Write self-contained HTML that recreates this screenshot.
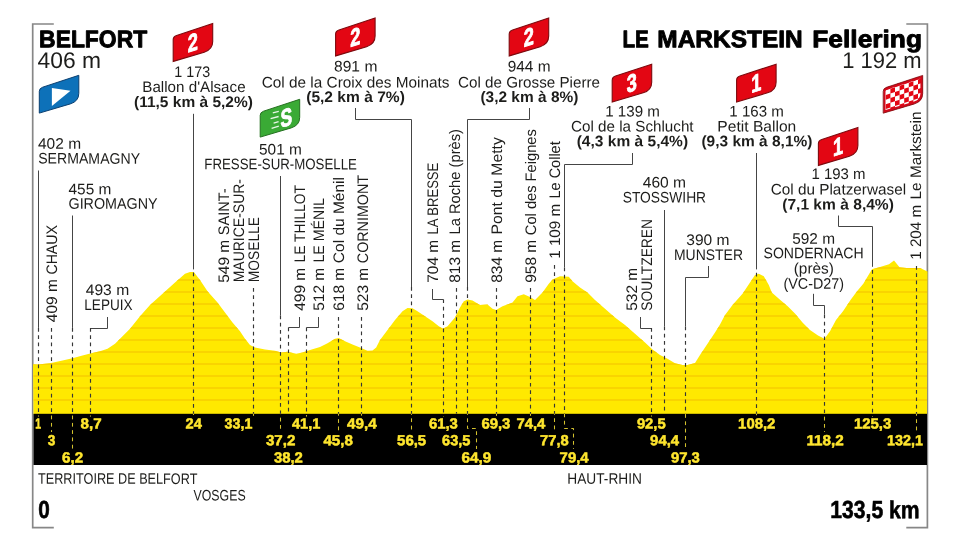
<!DOCTYPE html>
<html lang="fr">
<head>
<meta charset="utf-8">
<title>BELFORT - LE MARKSTEIN Fellering</title>
<style>
html,body{margin:0;padding:0;background:#fff;}
body{width:960px;height:540px;overflow:hidden;}
svg{display:block;text-rendering:geometricPrecision;font-family:"Liberation Sans",Arial,Helvetica,sans-serif;fill:#1d1d1b;}
</style>
</head>
<body>
<svg width="960" height="540" viewBox="0 0 960 540">
<g fill="none" stroke="#878787" stroke-width="1.7">
<path d="M53.8 24H32.7V527.6H53.8"/>
<path d="M906.3 24H927.4V527.6H906.3"/>
</g>
<defs><clipPath id="pc"><path d="M33.0,364.3 37.5,364.5 50.0,363.2 62.5,360.5 72.5,358.2 82.5,355.5 91.2,353.2 100.0,351.2 107.5,348.8 115.0,343.8 122.5,336.2 130.0,328.8 140.0,316.2 150.0,305.0 162.5,293.8 175.0,282.5 185.0,273.8 190.0,272.0 193.8,272.0 200.0,280.0 207.5,291.2 217.5,302.5 225.0,312.5 232.5,322.5 240.0,331.2 245.0,338.8 250.0,345.0 255.0,347.5 265.0,349.5 275.0,350.8 281.2,352.5 287.5,351.8 296.2,353.8 302.5,352.5 310.0,350.0 320.0,347.0 327.5,343.2 335.0,338.8 338.8,338.0 345.0,341.2 352.5,344.5 361.2,348.0 367.5,350.8 372.5,350.5 376.2,347.5 380.0,340.0 387.5,330.0 395.0,320.0 402.5,311.2 407.5,308.0 412.5,308.2 417.5,311.2 425.0,316.2 432.5,321.2 438.8,326.2 443.0,328.8 447.5,326.2 455.0,317.5 460.0,307.5 463.8,301.2 467.5,299.5 472.5,300.5 480.0,305.0 487.5,304.5 492.5,308.8 496.2,310.0 502.5,306.2 512.5,302.5 517.5,296.2 523.8,294.2 530.0,297.0 535.0,300.0 542.5,292.5 548.8,283.8 552.5,279.5 560.0,276.2 568.8,276.8 572.5,281.2 580.0,287.5 587.5,292.5 595.0,300.0 605.0,308.8 615.0,317.5 625.0,325.0 635.0,333.8 645.0,342.5 652.5,349.5 660.0,355.0 667.5,358.8 675.0,363.2 682.5,365.0 687.5,365.0 695.0,363.0 700.0,355.0 705.0,347.5 710.0,340.0 715.0,332.5 720.0,324.5 725.0,315.0 732.5,305.0 742.5,293.8 750.0,282.5 755.0,275.0 758.8,273.8 763.8,276.2 768.8,285.0 771.8,292.5 780.3,300.0 787.7,306.2 795.2,313.8 802.5,322.5 810.0,330.0 818.0,335.5 824.5,338.8 830.0,331.2 836.0,320.0 843.0,311.2 850.5,300.0 857.0,291.2 863.3,283.8 868.5,275.0 872.0,269.3 880.0,267.0 889.0,264.3 894.0,260.6 899.5,267.3 906.7,267.9 920.0,268.0 927.5,271.6 L927.0,414.8 L33.5,414.8Z"/></clipPath></defs>
<path d="M33.0,364.3 37.5,364.5 50.0,363.2 62.5,360.5 72.5,358.2 82.5,355.5 91.2,353.2 100.0,351.2 107.5,348.8 115.0,343.8 122.5,336.2 130.0,328.8 140.0,316.2 150.0,305.0 162.5,293.8 175.0,282.5 185.0,273.8 190.0,272.0 193.8,272.0 200.0,280.0 207.5,291.2 217.5,302.5 225.0,312.5 232.5,322.5 240.0,331.2 245.0,338.8 250.0,345.0 255.0,347.5 265.0,349.5 275.0,350.8 281.2,352.5 287.5,351.8 296.2,353.8 302.5,352.5 310.0,350.0 320.0,347.0 327.5,343.2 335.0,338.8 338.8,338.0 345.0,341.2 352.5,344.5 361.2,348.0 367.5,350.8 372.5,350.5 376.2,347.5 380.0,340.0 387.5,330.0 395.0,320.0 402.5,311.2 407.5,308.0 412.5,308.2 417.5,311.2 425.0,316.2 432.5,321.2 438.8,326.2 443.0,328.8 447.5,326.2 455.0,317.5 460.0,307.5 463.8,301.2 467.5,299.5 472.5,300.5 480.0,305.0 487.5,304.5 492.5,308.8 496.2,310.0 502.5,306.2 512.5,302.5 517.5,296.2 523.8,294.2 530.0,297.0 535.0,300.0 542.5,292.5 548.8,283.8 552.5,279.5 560.0,276.2 568.8,276.8 572.5,281.2 580.0,287.5 587.5,292.5 595.0,300.0 605.0,308.8 615.0,317.5 625.0,325.0 635.0,333.8 645.0,342.5 652.5,349.5 660.0,355.0 667.5,358.8 675.0,363.2 682.5,365.0 687.5,365.0 695.0,363.0 700.0,355.0 705.0,347.5 710.0,340.0 715.0,332.5 720.0,324.5 725.0,315.0 732.5,305.0 742.5,293.8 750.0,282.5 755.0,275.0 758.8,273.8 763.8,276.2 768.8,285.0 771.8,292.5 780.3,300.0 787.7,306.2 795.2,313.8 802.5,322.5 810.0,330.0 818.0,335.5 824.5,338.8 830.0,331.2 836.0,320.0 843.0,311.2 850.5,300.0 857.0,291.2 863.3,283.8 868.5,275.0 872.0,269.3 880.0,267.0 889.0,264.3 894.0,260.6 899.5,267.3 906.7,267.9 920.0,268.0 927.5,271.6 L927.0,414.8 L33.5,414.8Z" fill="#ffe900"/>
<path d="M33.5 400.0H927.0M33.5 388.0H927.0M33.5 376.0H927.0M33.5 364.0H927.0M33.5 352.0H927.0M33.5 340.0H927.0M33.5 328.0H927.0M33.5 316.0H927.0M33.5 304.0H927.0M33.5 292.0H927.0M33.5 280.0H927.0M33.5 268.0H927.0M33.5 256.0H927.0" clip-path="url(#pc)" fill="none" stroke="#f7cd00" stroke-width="1.4"/>
<rect x="33.5" y="413.8" width="893.5" height="51.19999999999999" fill="#000"/>
<path d="M38.5 170.5L38.5 327.9M72.5 215.5L72.5 327.9M107.5 317.0L107.5 328.5L90.5 328.5M193.5 113.8L193.5 269.4M280.5 176.0L280.5 315.5M299.5 317.0L299.5 327.5L288.5 327.5M318.5 317.0L318.5 327.5L306.5 327.5M355.5 108.0L355.5 119.5L411.5 119.5L411.5 287.0M432.5 289.0L432.5 299.5L443.5 299.5M529.5 108.0L529.5 119.5L467.5 119.5L467.5 287.0M632.5 153.0L632.5 164.5L564.5 164.5L564.5 267.5M640.5 317.0L640.5 328.5L651.5 328.5M664.5 210.0L664.5 326.5M708.5 266.0L708.5 277.5L685.5 277.5L685.5 326.5M756.5 153.0L756.5 269.4M813.5 293.8L813.5 305.5L824.5 305.5L824.5 314.5M838.5 215.5L838.5 226.5L872.5 226.5L872.5 266.8" fill="none" stroke="#454545" stroke-width="1"/>
<path d="M38.5 328.0V416.5M51.5 328.0V432.0M72.5 328.0V449.0M90.5 328.0V416.5M193.5 272.6V416.5M253.5 288.0V416.5M280.5 315.5V432.0M288.5 327.5V413.8M306.5 327.5V416.5M338.5 317.0V432.0M361.5 317.0V416.5M411.5 287.0V432.0M443.5 299.4V416.5M456.5 288.0V413.8M467.5 287.0V428.5H476.5V449.0M496.5 288.0V416.5M530.5 288.0V416.5M554.5 265.0V432.0M564.5 267.5V428.5H573.5V449.0M651.5 328.0V416.5M664.5 326.5V413.8M685.5 326.5V449.0M756.5 272.8V416.5M824.5 314.5V432.0M872.5 270.0V416.5M916.5 266.0V432.0" fill="none" stroke="#363636" stroke-width="1.15" stroke-dasharray="3.7 3.6"/>
<clipPath id="bc"><rect x="33.5" y="413.8" width="893.5" height="51.19999999999999"/></clipPath>
<path d="M38.5 328.0V416.5M51.5 328.0V432.0M72.5 328.0V449.0M90.5 328.0V416.5M193.5 272.6V416.5M253.5 288.0V416.5M280.5 315.5V432.0M288.5 327.5V413.8M306.5 327.5V416.5M338.5 317.0V432.0M361.5 317.0V416.5M411.5 287.0V432.0M443.5 299.4V416.5M456.5 288.0V413.8M467.5 287.0V428.5H476.5V449.0M496.5 288.0V416.5M530.5 288.0V416.5M554.5 265.0V432.0M564.5 267.5V428.5H573.5V449.0M651.5 328.0V416.5M664.5 326.5V413.8M685.5 326.5V449.0M756.5 272.8V416.5M824.5 314.5V432.0M872.5 270.0V416.5M916.5 266.0V432.0" clip-path="url(#bc)" fill="none" stroke="#e6d32a" stroke-width="0.9" stroke-dasharray="3.7 3.6"/>
<defs><path id="fl" d="M0 37.8V16Q0 13 3.4 11.9L39.5 0V18Q39.5 26 31 28.6Z"/><clipPath id="fc"><use href="#fl"/></clipPath></defs>
<g transform="translate(173.2 23.6)">
<use href="#fl" fill="#e30613" stroke="#7d0a0e" stroke-width="1.1"/>
<text transform="matrix(0.74 -0.24 0 1 19.6 27.2)" text-anchor="middle" font-size="24.5" font-weight="700" fill="#fff" stroke="#fff" stroke-width="0.9" stroke-linejoin="round">2</text>
</g>
<g transform="translate(335.6 18.1)">
<use href="#fl" fill="#e30613" stroke="#7d0a0e" stroke-width="1.1"/>
<text transform="matrix(0.74 -0.24 0 1 19.6 27.2)" text-anchor="middle" font-size="24.5" font-weight="700" fill="#fff" stroke="#fff" stroke-width="0.9" stroke-linejoin="round">2</text>
</g>
<g transform="translate(509.2 18.1)">
<use href="#fl" fill="#e30613" stroke="#7d0a0e" stroke-width="1.1"/>
<text transform="matrix(0.74 -0.24 0 1 19.6 27.2)" text-anchor="middle" font-size="24.5" font-weight="700" fill="#fff" stroke="#fff" stroke-width="0.9" stroke-linejoin="round">2</text>
</g>
<g transform="translate(612.2 64.2)">
<use href="#fl" fill="#e30613" stroke="#7d0a0e" stroke-width="1.1"/>
<text transform="matrix(0.74 -0.24 0 1 19.6 27.2)" text-anchor="middle" font-size="24.5" font-weight="700" fill="#fff" stroke="#fff" stroke-width="0.9" stroke-linejoin="round">3</text>
</g>
<g transform="translate(736.6 64.2)">
<use href="#fl" fill="#e30613" stroke="#7d0a0e" stroke-width="1.1"/>
<text transform="matrix(0.74 -0.24 0 1 19.6 27.2)" text-anchor="middle" font-size="24.5" font-weight="700" fill="#fff" stroke="#fff" stroke-width="0.9" stroke-linejoin="round">1</text>
</g>
<g transform="translate(818.4 127.6)">
<use href="#fl" fill="#e30613" stroke="#7d0a0e" stroke-width="1.1"/>
<text transform="matrix(0.74 -0.24 0 1 19.6 27.2)" text-anchor="middle" font-size="24.5" font-weight="700" fill="#fff" stroke="#fff" stroke-width="0.9" stroke-linejoin="round">1</text>
</g>
<g transform="translate(39.3 75.3)"><use href="#fl" fill="#0d71b9" stroke="#0b3f70" stroke-width="1"/><path d="M12.6 12.6L31.2 15.5L12.6 30.8Z" fill="#fff"/></g>
<g transform="translate(260.2 99.3)"><use href="#fl" fill="#3aaa35" stroke="#24701f" stroke-width="1"/><path d="M12.6 13.6L18.6 12M10.4 19.4L18.4 17.2M13.4 23.9L18.4 22.4M11.4 29L18.6 26.8" stroke="#e9f6e7" stroke-width="1.3" fill="none"/><text transform="matrix(0.7 -0.2 0 1 26.1 26.9)" text-anchor="middle" font-size="25" font-weight="700" fill="#fff" stroke="#fff" stroke-width="0.9" stroke-linejoin="round">S</text></g>
<g transform="translate(883.2 75.4)"><use href="#fl" fill="#fff"/><g clip-path="url(#fc)"><path transform="matrix(1 -0.33 0 1 0 0)" d="M7.2 6.3h4.6v4.7h-4.6zM16.4 6.3h4.6v4.7h-4.6zM25.6 6.3h4.6v4.7h-4.6zM34.8 6.3h4.6v4.7h-4.6zM2.6 11.0h4.6v4.7h-4.6zM11.8 11.0h4.6v4.7h-4.6zM21.0 11.0h4.6v4.7h-4.6zM30.2 11.0h4.6v4.7h-4.6zM39.4 11.0h4.6v4.7h-4.6zM7.2 15.7h4.6v4.7h-4.6zM16.4 15.7h4.6v4.7h-4.6zM25.6 15.7h4.6v4.7h-4.6zM34.8 15.7h4.6v4.7h-4.6zM2.6 20.4h4.6v4.7h-4.6zM11.8 20.4h4.6v4.7h-4.6zM21.0 20.4h4.6v4.7h-4.6zM30.2 20.4h4.6v4.7h-4.6zM39.4 20.4h4.6v4.7h-4.6zM7.2 25.1h4.6v4.7h-4.6zM16.4 25.1h4.6v4.7h-4.6zM25.6 25.1h4.6v4.7h-4.6zM34.8 25.1h4.6v4.7h-4.6zM2.6 29.8h4.6v4.7h-4.6zM11.8 29.8h4.6v4.7h-4.6zM21.0 29.8h4.6v4.7h-4.6zM30.2 29.8h4.6v4.7h-4.6zM39.4 29.8h4.6v4.7h-4.6zM7.2 34.5h4.6v4.7h-4.6zM16.4 34.5h4.6v4.7h-4.6zM25.6 34.5h4.6v4.7h-4.6zM34.8 34.5h4.6v4.7h-4.6zM2.6 39.2h4.6v4.7h-4.6zM11.8 39.2h4.6v4.7h-4.6zM21.0 39.2h4.6v4.7h-4.6zM30.2 39.2h4.6v4.7h-4.6zM39.4 39.2h4.6v4.7h-4.6zM7.2 43.9h4.6v4.7h-4.6zM16.4 43.9h4.6v4.7h-4.6zM25.6 43.9h4.6v4.7h-4.6zM34.8 43.9h4.6v4.7h-4.6z" fill="#e30613"/><use href="#fl" fill="none" stroke="#d2091a" stroke-width="4.6"/></g><use href="#fl" fill="none" stroke="#7d0a0e" stroke-width="0.8"/></g>
<text transform="matrix(0.9498 .0005 0 1 39.10 47.20)" font-size="24.1" font-weight="700" fill="#000" stroke="#000" stroke-width="0.9" stroke-linejoin="round">BELFORT</text>
<text transform="matrix(1.0107 .0005 0 1 37.60 68.00)" font-size="22.6">406 m</text>
<text transform="matrix(0.8607 .0005 0 1 622.40 47.20)" font-size="24.1" font-weight="700" fill="#000" stroke="#000" stroke-width="0.9" stroke-linejoin="round">LE</text>
<text transform="matrix(1.0148 .0005 0 1 657.30 47.20)" font-size="24.1" font-weight="700" fill="#000" stroke="#000" stroke-width="0.9" stroke-linejoin="round">MARKSTEIN</text>
<text transform="matrix(1.0922 .0005 0 1 812.30 47.20)" font-size="24.1" font-weight="700" fill="#000" stroke="#000" stroke-width="0.9" stroke-linejoin="round">Fellering</text>
<text transform="matrix(0.9713 .0005 0 1 842.30 68.00)" font-size="22.6">1 192 m</text>
<text transform="matrix(1.0166 .0005 0 1 38.00 148.80)" font-size="15.25">402 m</text>
<text transform="matrix(0.9252 .0005 0 1 38.20 163.60)" font-size="15.25">SERMAMAGNY</text>
<text transform="matrix(1.0119 .0005 0 1 68.50 194.20)" font-size="15.25">455 m</text>
<text transform="matrix(0.9390 .0005 0 1 68.50 208.80)" font-size="15.25">GIROMAGNY</text>
<text transform="matrix(1.0261 .0005 0 1 85.70 295.00)" font-size="15.25">493 m</text>
<text transform="matrix(0.8903 .0005 0 1 84.30 310.00)" font-size="15.25">LEPUIX</text>
<text transform="matrix(0.9381 .0005 0 1 174.30 77.00)" font-size="15.25">1 173</text>
<text transform="matrix(0.9950 .0005 0 1 142.30 92.00)" font-size="15.25">Ballon d'Alsace</text>
<text transform="matrix(1.0162 .0005 0 1 134.00 107.00)" font-size="15.25" font-weight="700">(11,5 km à 5,2%)</text>
<text transform="matrix(1.0119 .0005 0 1 259.00 154.50)" font-size="15.25">501 m</text>
<text transform="matrix(0.8699 .0005 0 1 204.30 169.30)" font-size="15.25">FRESSE-SUR-MOSELLE</text>
<text transform="matrix(1.0237 .0005 0 1 334.00 71.50)" font-size="15.25">891 m</text>
<text transform="matrix(1.0066 .0005 0 1 261.70 87.50)" font-size="15.25">Col de la Croix des Moinats</text>
<text transform="matrix(1.0212 .0005 0 1 306.20 102.00)" font-size="15.25" font-weight="700">(5,2 km à 7%)</text>
<text transform="matrix(1.0119 .0005 0 1 507.70 71.50)" font-size="15.25">944 m</text>
<text transform="matrix(0.9972 .0005 0 1 458.00 87.50)" font-size="15.25">Col de Grosse Pierre</text>
<text transform="matrix(1.0140 .0005 0 1 480.40 102.00)" font-size="15.25" font-weight="700">(3,2 km à 8%)</text>
<text transform="matrix(0.9929 .0005 0 1 605.20 116.50)" font-size="15.25">1 139 m</text>
<text transform="matrix(0.9974 .0005 0 1 571.00 131.50)" font-size="15.25">Col de la Schlucht</text>
<text transform="matrix(1.0188 .0005 0 1 576.70 146.30)" font-size="15.25" font-weight="700">(4,3 km à 5,4%)</text>
<text transform="matrix(0.9911 .0005 0 1 729.30 116.50)" font-size="15.25">1 163 m</text>
<text transform="matrix(1.0238 .0005 0 1 717.30 131.50)" font-size="15.25">Petit Ballon</text>
<text transform="matrix(1.0152 .0005 0 1 701.40 146.30)" font-size="15.25" font-weight="700">(9,3 km à 8,1%)</text>
<text transform="matrix(0.9838 .0005 0 1 811.40 179.00)" font-size="15.25">1 193 m</text>
<text transform="matrix(1.0047 .0005 0 1 770.70 194.50)" font-size="15.25">Col du Platzerwasel</text>
<text transform="matrix(1.0216 .0005 0 1 782.20 209.50)" font-size="15.25" font-weight="700">(7,1 km à 8,4%)</text>
<text transform="matrix(1.0237 .0005 0 1 642.70 187.50)" font-size="15.25">460 m</text>
<text transform="matrix(0.9058 .0005 0 1 622.70 202.50)" font-size="15.25">STOSSWIHR</text>
<text transform="matrix(1.0213 .0005 0 1 686.30 245.00)" font-size="15.25">390 m</text>
<text transform="matrix(0.9163 .0005 0 1 673.90 260.00)" font-size="15.25">MUNSTER</text>
<text transform="matrix(1.0119 .0005 0 1 792.20 243.80)" font-size="15.25">592 m</text>
<text transform="matrix(0.9229 .0005 0 1 763.50 258.30)" font-size="15.25">SONDERNACH</text>
<text transform="matrix(1.0090 .0005 0 1 793.70 273.40)" font-size="15.25">(près)</text>
<text transform="matrix(0.9380 .0005 0 1 783.50 288.80)" font-size="15.25">(VC-D27)</text>
<text transform="matrix(0.8310 .0005 0 1 38.00 483.80)" font-size="15.25">TERRITOIRE DE BELFORT</text>
<text transform="matrix(0.8091 .0005 0 1 193.50 500.50)" font-size="15.25">VOSGES</text>
<text transform="matrix(0.8984 .0005 0 1 567.30 483.80)" font-size="15.25">HAUT-RHIN</text>
<text transform="matrix(0.8423 .0005 0 1 38.20 518.10)" font-size="24.6" font-weight="700" fill="#000" stroke="#000" stroke-width="0.6" stroke-linejoin="round">0</text>
<text transform="matrix(0.8592 .0005 0 1 830.30 518.10)" font-size="24.6" font-weight="700" fill="#000" stroke="#000" stroke-width="0.6" stroke-linejoin="round">133,5 km</text>
<text transform="translate(56.90 322.20) rotate(-90) scale(1.0143 1)" font-size="15.25">409 m</text>
<text transform="translate(56.90 274.60) rotate(-90) scale(0.9293 1)" font-size="15.25">CHAUX</text>
<text transform="translate(228.90 282.80) rotate(-90) scale(1.0143 1)" font-size="15.25">549 m</text>
<text transform="translate(228.90 235.20) rotate(-90) scale(0.9523 1)" font-size="15.25">SAINT-</text>
<text transform="translate(243.90 282.30) rotate(-90) scale(0.9166 1)" font-size="15.25">MAURICE-SUR-</text>
<text transform="translate(258.90 282.30) rotate(-90) scale(0.9062 1)" font-size="15.25">MOSELLE</text>
<text transform="translate(304.50 310.80) rotate(-90) scale(1.0143 1)" font-size="15.25">499 m</text>
<text transform="translate(304.50 262.50) rotate(-90) scale(0.9083 1)" font-size="15.25">LE THILLOT</text>
<text transform="translate(323.90 310.80) rotate(-90) scale(1.0143 1)" font-size="15.25">512 m</text>
<text transform="translate(323.90 262.50) rotate(-90) scale(0.9280 1)" font-size="15.25">LE MÉNIL</text>
<text transform="translate(343.90 310.80) rotate(-90) scale(1.0143 1)" font-size="15.25">618 m</text>
<text transform="translate(343.90 263.20) rotate(-90) scale(1.0171 1)" font-size="15.25">Col du Ménil</text>
<text transform="translate(367.90 310.80) rotate(-90) scale(1.0143 1)" font-size="15.25">523 m</text>
<text transform="translate(367.90 263.20) rotate(-90) scale(0.9381 1)" font-size="15.25">CORNIMONT</text>
<text transform="translate(437.70 282.80) rotate(-90) scale(1.0143 1)" font-size="15.25">704 m</text>
<text transform="translate(437.70 234.50) rotate(-90) scale(0.8545 1)" font-size="15.25">LA BRESSE</text>
<text transform="translate(459.70 282.80) rotate(-90) scale(1.0143 1)" font-size="15.25">813 m</text>
<text transform="translate(459.70 234.50) rotate(-90) scale(0.9649 1)" font-size="15.25">La Roche (près)</text>
<text transform="translate(501.90 282.80) rotate(-90) scale(1.0143 1)" font-size="15.25">834 m</text>
<text transform="translate(501.90 234.50) rotate(-90) scale(1.0341 1)" font-size="15.25">Pont du Metty</text>
<text transform="translate(536.30 282.80) rotate(-90) scale(1.0143 1)" font-size="15.25">958 m</text>
<text transform="translate(536.30 235.20) rotate(-90) scale(0.9617 1)" font-size="15.25">Col des Feignes</text>
<text transform="translate(559.50 258.80) rotate(-90) scale(0.9984 1)" font-size="15.25">1 109 m</text>
<text transform="translate(559.50 198.50) rotate(-90) scale(0.9502 1)" font-size="15.25">Le Collet</text>
<text transform="translate(636.90 310.80) rotate(-90) scale(1.0143 1)" font-size="15.25">532 m</text>
<text transform="translate(651.50 310.80) rotate(-90) scale(0.9052 1)" font-size="15.25">SOULTZEREN</text>
<text transform="translate(920.50 259.80) rotate(-90) scale(0.9984 1)" font-size="15.25">1 204 m</text>
<text transform="translate(920.50 199.50) rotate(-90) scale(1.0091 1)" font-size="15.25">Le Markstein</text>
<text transform="matrix(0.7109 .0005 0 1 35.30 428.60)" font-size="14.7" font-weight="700" fill="#ffe62e" stroke="#ffe62e" stroke-width="0.5" stroke-linejoin="round">1</text>
<text transform="matrix(0.9315 .0005 0 1 47.70 445.30)" font-size="14.7" font-weight="700" fill="#ffe62e" stroke="#ffe62e" stroke-width="0.5" stroke-linejoin="round">3</text>
<text transform="matrix(1.0326 .0005 0 1 62.10 462.60)" font-size="14.7" font-weight="700" fill="#ffe62e" stroke="#ffe62e" stroke-width="0.5" stroke-linejoin="round">6,2</text>
<text transform="matrix(1.0326 .0005 0 1 80.60 428.60)" font-size="14.7" font-weight="700" fill="#ffe62e" stroke="#ffe62e" stroke-width="0.5" stroke-linejoin="round">8,7</text>
<text transform="matrix(0.9967 .0005 0 1 185.60 428.60)" font-size="14.7" font-weight="700" fill="#ffe62e" stroke="#ffe62e" stroke-width="0.5" stroke-linejoin="round">24</text>
<text transform="matrix(0.9711 .0005 0 1 224.60 428.60)" font-size="14.7" font-weight="700" fill="#ffe62e" stroke="#ffe62e" stroke-width="0.5" stroke-linejoin="round">33,1</text>
<text transform="matrix(1.0305 .0005 0 1 265.90 445.30)" font-size="14.7" font-weight="700" fill="#ffe62e" stroke="#ffe62e" stroke-width="0.5" stroke-linejoin="round">37,2</text>
<text transform="matrix(1.0130 .0005 0 1 273.90 462.60)" font-size="14.7" font-weight="700" fill="#ffe62e" stroke="#ffe62e" stroke-width="0.5" stroke-linejoin="round">38,2</text>
<text transform="matrix(0.9955 .0005 0 1 291.90 428.60)" font-size="14.7" font-weight="700" fill="#ffe62e" stroke="#ffe62e" stroke-width="0.5" stroke-linejoin="round">41,1</text>
<text transform="matrix(1.0305 .0005 0 1 323.40 445.30)" font-size="14.7" font-weight="700" fill="#ffe62e" stroke="#ffe62e" stroke-width="0.5" stroke-linejoin="round">45,8</text>
<text transform="matrix(1.0339 .0005 0 1 347.10 428.60)" font-size="14.7" font-weight="700" fill="#ffe62e" stroke="#ffe62e" stroke-width="0.5" stroke-linejoin="round">49,4</text>
<text transform="matrix(1.0165 .0005 0 1 397.10 445.30)" font-size="14.7" font-weight="700" fill="#ffe62e" stroke="#ffe62e" stroke-width="0.5" stroke-linejoin="round">56,5</text>
<text transform="matrix(1.0130 .0005 0 1 428.90 428.60)" font-size="14.7" font-weight="700" fill="#ffe62e" stroke="#ffe62e" stroke-width="0.5" stroke-linejoin="round">61,3</text>
<text transform="matrix(0.9885 .0005 0 1 442.10 445.30)" font-size="14.7" font-weight="700" fill="#ffe62e" stroke="#ffe62e" stroke-width="0.5" stroke-linejoin="round">63,5</text>
<text transform="matrix(1.0409 .0005 0 1 461.40 462.60)" font-size="14.7" font-weight="700" fill="#ffe62e" stroke="#ffe62e" stroke-width="0.5" stroke-linejoin="round">64,9</text>
<text transform="matrix(1.0130 .0005 0 1 481.40 428.60)" font-size="14.7" font-weight="700" fill="#ffe62e" stroke="#ffe62e" stroke-width="0.5" stroke-linejoin="round">69,3</text>
<text transform="matrix(1.0130 .0005 0 1 516.40 428.60)" font-size="14.7" font-weight="700" fill="#ffe62e" stroke="#ffe62e" stroke-width="0.5" stroke-linejoin="round">74,4</text>
<text transform="matrix(0.9990 .0005 0 1 540.10 445.30)" font-size="14.7" font-weight="700" fill="#ffe62e" stroke="#ffe62e" stroke-width="0.5" stroke-linejoin="round">77,8</text>
<text transform="matrix(1.0165 .0005 0 1 559.60 462.60)" font-size="14.7" font-weight="700" fill="#ffe62e" stroke="#ffe62e" stroke-width="0.5" stroke-linejoin="round">79,4</text>
<text transform="matrix(1.0060 .0005 0 1 636.90 428.60)" font-size="14.7" font-weight="700" fill="#ffe62e" stroke="#ffe62e" stroke-width="0.5" stroke-linejoin="round">92,5</text>
<text transform="matrix(1.0165 .0005 0 1 650.10 445.30)" font-size="14.7" font-weight="700" fill="#ffe62e" stroke="#ffe62e" stroke-width="0.5" stroke-linejoin="round">94,4</text>
<text transform="matrix(1.0130 .0005 0 1 670.90 462.60)" font-size="14.7" font-weight="700" fill="#ffe62e" stroke="#ffe62e" stroke-width="0.5" stroke-linejoin="round">97,3</text>
<text transform="matrix(1.0140 .0005 0 1 738.10 428.60)" font-size="14.7" font-weight="700" fill="#ffe62e" stroke="#ffe62e" stroke-width="0.5" stroke-linejoin="round">108,2</text>
<text transform="matrix(1.0367 .0005 0 1 806.40 445.30)" font-size="14.7" font-weight="700" fill="#ffe62e" stroke="#ffe62e" stroke-width="0.5" stroke-linejoin="round">118,2</text>
<text transform="matrix(1.0140 .0005 0 1 853.90 428.60)" font-size="14.7" font-weight="700" fill="#ffe62e" stroke="#ffe62e" stroke-width="0.5" stroke-linejoin="round">125,3</text>
<text transform="matrix(0.9732 .0005 0 1 887.10 445.30)" font-size="14.7" font-weight="700" fill="#ffe62e" stroke="#ffe62e" stroke-width="0.5" stroke-linejoin="round">132,1</text>
</svg>
</body>
</html>
